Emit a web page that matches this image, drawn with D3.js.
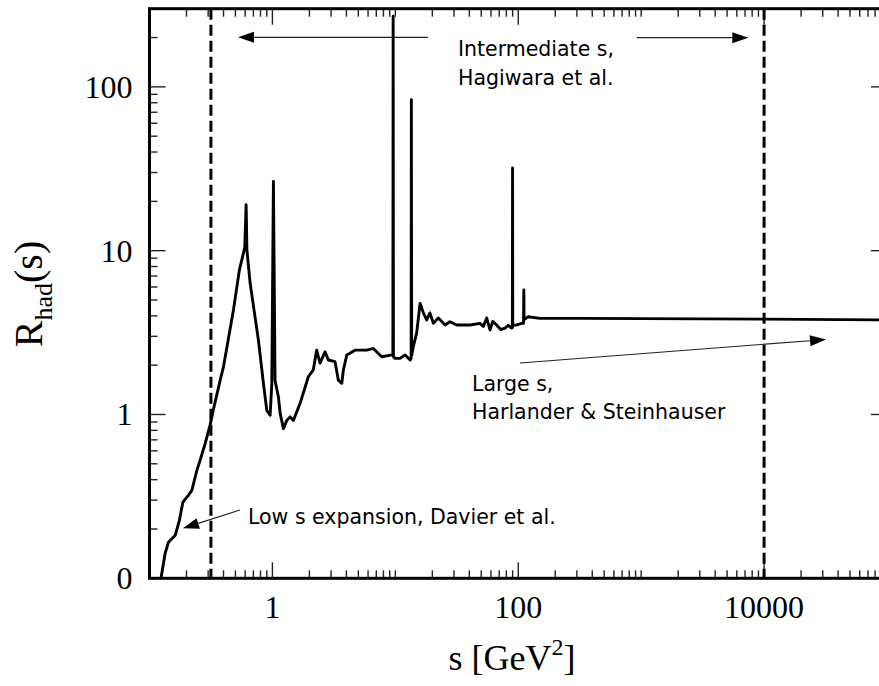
<!DOCTYPE html>
<html><head><meta charset="utf-8">
<script src="https://cdn.jsdelivr.net/npm/d3@7"></script>
<style>body{margin:0;background:#fff}</style>
</head><body><svg id="c" width="879" height="686"></svg>
<script>
// ---- data ----
const sValues = [0.124,0.134,0.1426,0.162,0.175,0.187,0.207,0.221,0.243,0.258,0.284,0.311,0.330,0.376,0.40,0.482,0.539,0.581,0.596,0.611,0.62,0.659,0.769,0.845,0.90,0.958,0.989,1.019,1.05,1.119,1.155,1.229,1.309,1.393,1.48,1.68,1.96,2.15,2.29,2.44,2.68,2.85,3.23,3.44,3.67,3.78,4.03,4.70,5.85,6.62,7.75,9.35,9.55,9.60,9.65,9.96,10.9,12.0,13.2,13.45,13.5,13.58,14.0,14.9,15.9,16.9,18.0,19.1,20.4,22.4,25.4,27.8,31.6,40.5,48.8,52,55.4,58.9,62,66.7,72,78,83,88.3,89.6,89.9,90.2,97,107,110.5,111,111.5,120.5,150,318,1000,10000,85500,100000];
const rValues = [0.1,0.142,0.166,0.183,0.226,0.292,0.321,0.344,0.456,0.525,0.667,0.861,1.06,1.62,1.96,4.35,7.64,9.66,10.5,19.1,10.1,6.32,2.85,1.55,1.06,0.99,1.55,26.5,1.62,1.28,1.02,0.82,0.92,0.967,0.92,1.17,1.70,1.87,2.47,2.06,2.41,2.15,2.10,1.62,1.55,1.87,2.31,2.47,2.47,2.53,2.25,2.31,2.31,270,2.25,2.20,2.20,2.31,2.15,2.2,83.6,2.3,2.59,3.14,4.77,4.17,3.78,4.17,3.61,3.88,3.52,3.68,3.52,3.52,3.60,3.45,3.88,3.28,3.7,3.52,3.3,3.37,3.5,3.37,3.4,32,3.5,3.52,3.60,3.6,5.75,3.8,3.95,3.86,3.86,3.85,3.82,3.78,3.78];
const xMajorTicks = [1, 100, 10000];
const xMajorLabels = ["1", "100", "10000"];
const yMajorTicks = [0.1, 1, 10, 100];
const yMajorLabels = ["0", "1", "10", "100"];
const regionBounds = [0.316, 10000];

// ---- layout ----
const L = 149.5, T = 8.7, R = 887, B = 578.3;
const svg = d3.select("#c");
const x = d3.scaleLog().domain([0.1, 1e5]).range([L, R]);
const y = d3.scaleLog().domain([0.1, 300]).range([B, T]);

// minor tick values
const xMinor = [];
for (let e = -1; e < 5; e++) for (let k = 1; k <= 9; k++) {
  const v = k * Math.pow(10, e);
  if (v > 0.1 && !xMajorTicks.some(t => Math.abs(t - v) / v < 1e-6)) xMinor.push(v);
}
const yMinor = [];
for (let e = -1; e < 3; e++) for (let k = 2; k <= 9; k++) {
  const v = k * Math.pow(10, e);
  if (v < 300) yMinor.push(v);
}
const ticks = svg.append("g");
function addTick(x1, y1, x2, y2) {
  ticks.append("line").attr("x1", x1).attr("y1", y1).attr("x2", x2).attr("y2", y2)
    .attr("stroke", "#222").attr("stroke-width", 1.4);
}
function xTicks(vals, len) {
  vals.forEach(d => { addTick(x(d), B, x(d), B - len); addTick(x(d), T, x(d), T + len); });
}
function yTicks(vals, len) {
  vals.forEach(d => { addTick(L, y(d), L + len, y(d)); addTick(R, y(d), R - len, y(d)); });
}
xTicks(xMinor, 8);
xTicks(xMajorTicks, 16);
yTicks(yMinor, 8);
yTicks(yMajorTicks, 16);

const serif = "Liberation Serif, Times New Roman, serif";
svg.append("g").selectAll("text").data(xMajorTicks).join("text")
  .attr("x", d => x(d)).attr("y", B + 40).attr("text-anchor", "middle")
  .attr("font-family", serif).attr("font-size", 32).attr("fill", "#000")
  .text((d, i) => xMajorLabels[i]);
svg.append("g").selectAll("text").data(yMajorTicks).join("text")
  .attr("x", L - 17).attr("y", d => y(d) + 11).attr("text-anchor", "end")
  .attr("font-family", serif).attr("font-size", 32).attr("fill", "#000")
  .text((d, i) => yMajorLabels[i]);

// clip
svg.append("clipPath").attr("id", "clip").append("rect")
  .attr("x", L).attr("y", T).attr("width", R - L).attr("height", B - T);

// dashed region boundaries
svg.append("g").selectAll("line").data(regionBounds).join("line")
  .attr("x1", d => x(d)).attr("x2", d => x(d)).attr("y1", T).attr("y2", B)
  .attr("stroke", "#000").attr("stroke-width", 3).attr("stroke-dasharray", "11,5");

// curve
const pts = sValues.map((s, i) => [s, rValues[i]]);
svg.append("path").datum(pts)
  .attr("clip-path", "url(#clip)")
  .attr("d", d3.line().x(d => x(d[0])).y(d => y(d[1])))
  .attr("fill", "none").attr("stroke", "#000").attr("stroke-width", 2.9)
  .attr("stroke-linejoin", "round");

// frame
svg.append("rect").attr("x", L).attr("y", T).attr("width", R - L).attr("height", B - T)
  .attr("fill", "none").attr("stroke", "#000").attr("stroke-width", 3);

// annotations
function arrow(x1, y1, x2, y2) {
  const a = Math.atan2(y2 - y1, x2 - x1), len = 16, hw = 5.5;
  const bx = x2 - len * Math.cos(a), by = y2 - len * Math.sin(a);
  svg.append("line").attr("x1", x1).attr("y1", y1).attr("x2", bx).attr("y2", by)
    .attr("stroke", "#222").attr("stroke-width", 1.2);
  const px = -Math.sin(a) * hw, py = Math.cos(a) * hw;
  svg.append("polygon")
    .attr("points", `${x2},${y2} ${bx + px},${by + py} ${bx - px},${by - py}`)
    .attr("fill", "#000");
}
arrow(428, 37.3, 238, 37.3);
arrow(636.7, 37.7, 748.3, 37.7);
arrow(240, 510, 183, 528.3);
arrow(520, 363, 826, 339.5);

const annFont = "DejaVu Sans, Verdana, sans-serif";
function ann(tx, ty, str) {
  svg.append("text").attr("x", tx).attr("y", ty).text(str)
    .attr("font-family", annFont).attr("font-size", 20.5).attr("fill", "#000");
}
ann(458, 56, "Intermediate s,");
ann(458, 85, "Hagiwara et al.");
ann(472, 391, "Large s,");
ann(472, 419, "Harlander & Steinhauser");
ann(248, 524, "Low s expansion, Davier et al.");

// axis titles
const xt = svg.append("text").attr("x", 512).attr("y", 670).attr("text-anchor", "middle")
  .attr("font-family", serif).attr("font-size", 36).attr("fill", "#000");
xt.append("tspan").text("s [GeV");
xt.append("tspan").text("2").attr("font-size", 24).attr("dy", -15);
xt.append("tspan").text("]").attr("dy", 15);

const yt = svg.append("text").attr("transform", "translate(42,294) rotate(-90)")
  .attr("text-anchor", "middle").attr("font-family", serif).attr("font-size", 40).attr("fill", "#000");
yt.append("tspan").text("R");
yt.append("tspan").text("had").attr("font-size", 26).attr("dy", 10);
yt.append("tspan").text("(s)").attr("dy", -10);
</script></body></html>
